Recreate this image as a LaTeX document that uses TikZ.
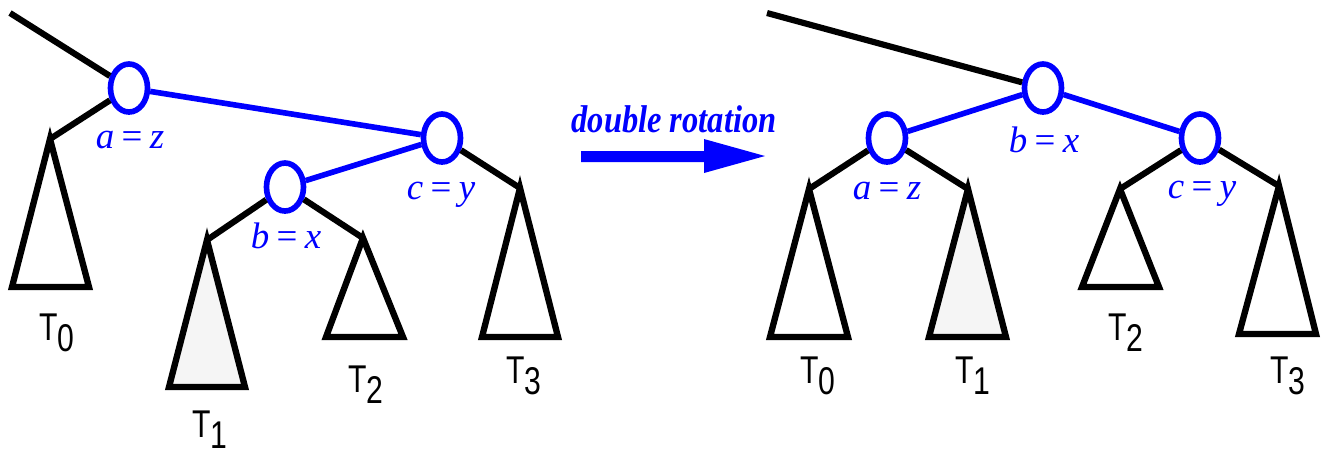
\documentclass[tikz,border=0pt]{standalone}
\usepackage{fontspec}
\setmainfont{Liberation Serif}
\newfontfamily\tsans[FakeStretch=0.78]{Liberation Sans}
\newfontfamily\rotfont[FakeStretch=0.84]{Liberation Serif}
\usetikzlibrary{shapes.geometric}
\newcommand{\Tsub}[1]{T\raisebox{-3.3pt}{#1}}
\newcommand{\eqsp}{\hspace{0.2em}=\hspace{0.2em}}
\begin{document}
\begin{tikzpicture}[x=0.01cm,y=-0.01cm,
  bnode/.style={ellipse,draw=blue,line width=1.6pt,minimum width=0.37cm,minimum height=0.48cm,inner sep=0pt,fill=white},
  bedge/.style={draw=blue,line width=1.6pt},
  kedge/.style={draw=black,line width=1.75pt},
  tri/.style={draw=black,line width=1.8pt,line join=miter},
  tlab/.style={anchor=base,inner sep=0pt,font=\tsans\fontsize{11}{13}\selectfont},
  vlab/.style={anchor=base,inner sep=0pt,text=blue,font=\fontsize{10.5}{13}\selectfont},
]
\useasboundingbox (0,0) rectangle (1323,453);

% ---------- left tree ----------
\node[bnode] (La) at (129,88) {};
\node[bnode] (Lc) at (442,138) {};
\node[bnode] (Lb) at (285,187) {};
\coordinate (Ltop) at (10,13);
\coordinate (L0) at (50,139);
\coordinate (L1) at (207,240);
\coordinate (L2) at (363,238);
\coordinate (L3) at (520,188);

\draw[kedge] (Ltop) -- (La);
\draw[kedge] (La) -- (L0);
\draw[kedge] (Lb) -- (L1);
\draw[kedge] (Lb) -- (L2);
\draw[kedge] (Lc) -- (L3);
\draw[bedge] (La) -- (Lc);
\draw[bedge] (Lc) -- (Lb);

\draw[tri] (L0) -- (12,287) -- (89,287) -- cycle;
\draw[tri,fill=black!4] (L1) -- (169,387) -- (245,387) -- cycle;
\draw[tri] (L2) -- (326,337) -- (403,337) -- cycle;
\draw[tri] (L3) -- (482,337) -- (558,337) -- cycle;

\node[vlab] (Lal) at (130,148) {\textit{a}\eqsp\textit{z}};
\node[vlab] (Lcl) at (441,199) {\textit{c}\eqsp\textit{y}};
\node[vlab] (Lbl) at (286,248) {\textit{b}\eqsp\textit{x}};

\node[tlab] (LT0) at (57,340) {\Tsub{0}};
\node[tlab] (LT1) at (210,437) {\Tsub{1}};
\node[tlab] (LT2) at (366,392) {\Tsub{2}};
\node[tlab] (LT3) at (524,383) {\Tsub{3}};

% ---------- arrow ----------
\node[anchor=base,inner sep=0pt,text=blue,font=\rotfont\bfseries\itshape\fontsize{11}{13}\selectfont] (rot) at (674,132) {double rotation};
\fill[blue] (581,151) -- (704,151) -- (704,139) -- (765,156) -- (704,173) -- (704,162) -- (581,162) -- cycle;

% ---------- right tree ----------
\node[bnode] (Rb) at (1043,88) {};
\node[bnode] (Ra) at (887,138) {};
\node[bnode] (Rc) at (1200,138) {};
\coordinate (Rtop) at (767,13);
\coordinate (R0) at (809,189);
\coordinate (R1) at (968,189);
\coordinate (R2) at (1120,189);
\coordinate (R3) at (1279,186);

\draw[kedge] (Rtop) -- (Rb);
\draw[kedge] (Ra) -- (R0);
\draw[kedge] (Ra) -- (R1);
\draw[kedge] (Rc) -- (R2);
\draw[kedge] (Rc) -- (R3);
\draw[bedge] (Rb) -- (Ra);
\draw[bedge] (Rb) -- (Rc);

\draw[tri] (R0) -- (770,337) -- (848,337) -- cycle;
\draw[tri,fill=black!4] (R1) -- (929,337) -- (1006,337) -- cycle;
\draw[tri] (R2) -- (1082,287) -- (1159,287) -- cycle;
\draw[tri] (R3) -- (1239,334) -- (1316,334) -- cycle;

\node[vlab] (Rbl) at (1044,152) {\textit{b}\eqsp\textit{x}};
\node[vlab] (Ral) at (887,199) {\textit{a}\eqsp\textit{z}};
\node[vlab] (Rcl) at (1202,198) {\textit{c}\eqsp\textit{y}};

\node[tlab] (RT0) at (818,383) {\Tsub{0}};
\node[tlab] (RT1) at (973,383) {\Tsub{1}};
\node[tlab] (RT2) at (1126,340) {\Tsub{2}};
\node[tlab] (RT3) at (1288,383) {\Tsub{3}};
\end{tikzpicture}
\end{document}
